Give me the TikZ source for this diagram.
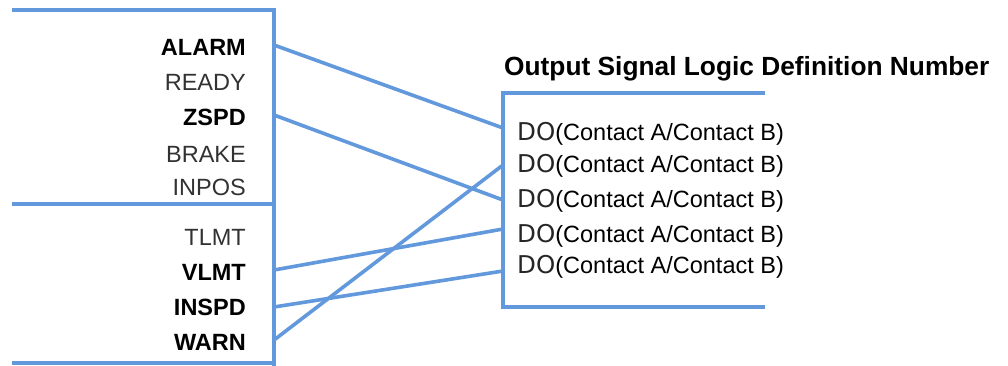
\documentclass[tikz,border=0pt]{standalone}
\usepackage{fontspec}
\setmainfont{Liberation Sans}
\newfontfamily\dofont{DejaVu Sans}
\definecolor{wire}{RGB}{98,152,220}
\definecolor{lbl}{RGB}{50,50,50}
\begin{document}
\begin{tikzpicture}[x=1pt,y=-1pt,
  wireline/.style={draw=wire,line width=3.6pt},
  siglbl/.style={anchor=base east,inner sep=0pt,font=\fontsize{23.5}{24}\selectfont,text=lbl},
  sigbold/.style={siglbl,font=\fontsize{23.5}{24}\selectfont\bfseries,text=black},
  dolbl/.style={anchor=base west,inner sep=0pt,font=\fontsize{23.5}{24}\selectfont,text=black}]
\useasboundingbox (0,0) rectangle (1008,365);
% left box
\draw[wireline] (12,10) -- (274,10) -- (274,366);
\draw[wireline] (12,204) -- (274,204);
\draw[wireline] (12,363) -- (274,363);
% right box
\draw[wireline] (765,93) -- (503,93) -- (503,307) -- (765,307);
% left labels
\node[sigbold] (alarm) at (246,55) {ALARM};
\node[siglbl]  (ready) at (246,90) {READY};
\node[sigbold] (zspd)  at (246,125) {ZSPD};
\node[siglbl]  (brake) at (246,162) {BRAKE};
\node[siglbl]  (inpos) at (246,195) {INPOS};
\node[siglbl]  (tlmt)  at (246,245) {TLMT};
\node[sigbold] (vlmt)  at (246,280) {VLMT};
\node[sigbold] (inspd) at (246,315) {INSPD};
\node[sigbold] (warn)  at (246,350) {WARN};
% title
\node[anchor=base west,inner sep=0pt,font=\fontsize{26.3}{27}\selectfont\bfseries] (title) at (504,75) {Output Signal Logic Definition Number};
% DO rows
\foreach \i/\y in {1/140,2/172,3/207,4/242,5/273}{
  \node[dolbl] (do\i) at (517,\y) {{\fontsize{24.5}{25}\dofont\color{black!85}DO}(Contact A/Contact B)};
}
% connector coordinates
\coordinate (alarmE) at (274,45);
\coordinate (zspdE)  at (274,115);
\coordinate (vlmtE)  at (274,270);
\coordinate (inspdE) at (274,307);
\coordinate (warnE)  at (274,340);
\coordinate (do1W) at (503,128);
\coordinate (do2W) at (503,165);
\coordinate (do3W) at (503,200);
\coordinate (do4W) at (503,229);
\coordinate (do5W) at (503,271);
\draw[wireline] (alarmE) -- (do1W);
\draw[wireline] (zspdE) -- (do3W);
\draw[wireline] (vlmtE) -- (do4W);
\draw[wireline] (inspdE) -- (do5W);
\draw[wireline] (warnE) -- (do2W);
\end{tikzpicture}
\end{document}
